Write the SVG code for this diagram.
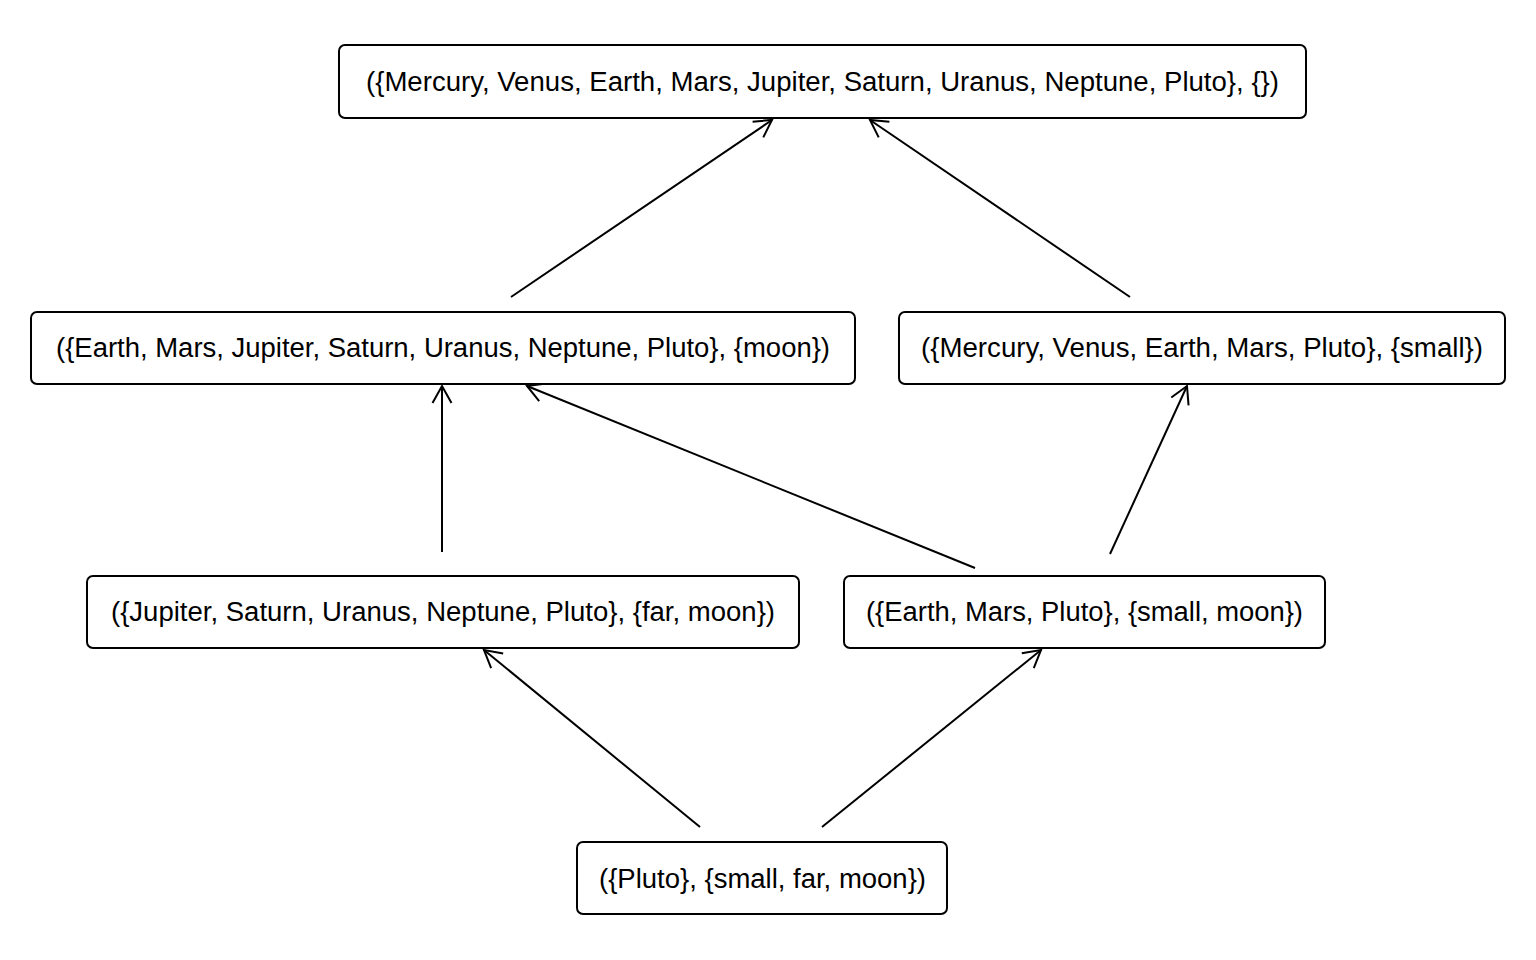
<svg xmlns="http://www.w3.org/2000/svg" width="1536" height="960" viewBox="0 0 1536 960">
<style>
.box{fill:#fff;stroke:#000;stroke-width:2}
.lbl{font-family:"Liberation Sans",Arial,sans-serif;font-size:27px;fill:#000;text-anchor:middle}
.edge{stroke:#000;stroke-width:2;fill:none;marker-end:url(#arr)}
</style>
<defs>
<marker id="arr" markerUnits="userSpaceOnUse" viewBox="-20 -12 22 24" refX="0" refY="0" markerWidth="22" markerHeight="24" orient="auto" overflow="visible">
<path d="M-17,-9.5 L0,0 L-17,9.5" fill="none" stroke="#000" stroke-width="2"/>
</marker>
</defs>
<rect width="1536" height="960" fill="#fff"/>
<g id="edges">
<line class="edge" x1="511" y1="297" x2="772" y2="120"/>
<line class="edge" x1="1130" y1="297" x2="870" y2="120"/>
<line class="edge" x1="442" y1="552" x2="442" y2="386"/>
<line class="edge" x1="975" y1="568" x2="527" y2="386"/>
<line class="edge" x1="1110" y1="554" x2="1187" y2="386"/>
<line class="edge" x1="700" y1="827" x2="484" y2="650"/>
<line class="edge" x1="822" y1="827" x2="1041" y2="650"/>
</g>
<g id="n_top">
<rect class="box" x="339" y="45" width="967" height="73" rx="6"/>
<text class="lbl" x="822.5" y="91" textLength="913" lengthAdjust="spacingAndGlyphs">({Mercury, Venus, Earth, Mars, Jupiter, Saturn, Uranus, Neptune, Pluto}, {})</text>
</g>
<g id="n_moon">
<rect class="box" x="31" y="312" width="824" height="72" rx="6"/>
<text class="lbl" x="443" y="357" textLength="774" lengthAdjust="spacingAndGlyphs">({Earth, Mars, Jupiter, Saturn, Uranus, Neptune, Pluto}, {moon})</text>
</g>
<g id="n_small">
<rect class="box" x="899" y="312" width="606" height="72" rx="6"/>
<text class="lbl" x="1202" y="357" textLength="562" lengthAdjust="spacingAndGlyphs">({Mercury, Venus, Earth, Mars, Pluto}, {small})</text>
</g>
<g id="n_farmoon">
<rect class="box" x="87" y="576" width="712" height="72" rx="6"/>
<text class="lbl" x="443" y="621" textLength="664" lengthAdjust="spacingAndGlyphs">({Jupiter, Saturn, Uranus, Neptune, Pluto}, {far, moon})</text>
</g>
<g id="n_smallmoon">
<rect class="box" x="844" y="576" width="481" height="72" rx="6"/>
<text class="lbl" x="1084.5" y="621" textLength="437" lengthAdjust="spacingAndGlyphs">({Earth, Mars, Pluto}, {small, moon})</text>
</g>
<g id="n_bottom">
<rect class="box" x="577" y="842" width="370" height="72" rx="6"/>
<text class="lbl" x="762.5" y="888" textLength="327" lengthAdjust="spacingAndGlyphs">({Pluto}, {small, far, moon})</text>
</g>
</svg>
